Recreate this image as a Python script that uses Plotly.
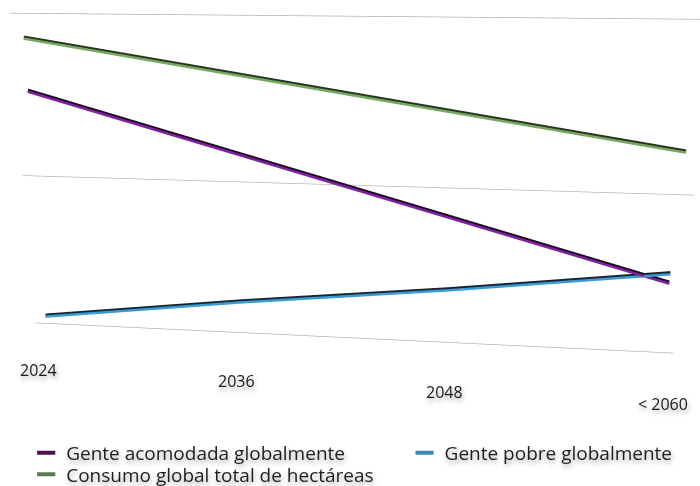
import math
import plotly.graph_objects as go

# ---- data ----
categories = ["2024", "2036", "2048", "< 2060"]
series_names = ["Gente acomodada globalmente", "Gente pobre globalmente",
                "Consumo global total de hectáreas"]
acomodada = [77, 59, 41, 23]
pobre = [3, 11, 18, 26]
consumo = [93, 83, 73, 63]
grid_values = [0, 50, 100]

# ---- 3D scene geometry (perspective view) ----
W, H = 700, 486
WALL_X = (-0.06, 3.06)          # extent of the back-wall gridlines (category units)
WALL_Y, SERIES_Y, LABEL_Y = 1.0, 0.97, 0.0
LABEL_Z = -14.43
EYE = dict(x=0.0993, y=-1.3825, z=0.2636)
ROLL = -0.0223
SX, MX, MZ, SY, SZ = 0.5179, 1.5323, 32.1975, 0.0471, 1 / 130.0

hx = max(MX - WALL_X[0], WALL_X[1] - MX) + 0.02
hz = max(MZ - LABEL_Z, max(grid_values) - MZ) + 2
XR = [MX - hx, MX + hx]
ZR = [MZ - hz, MZ + hz]
YR = [0, 1]
asp = dict(x=SX * 2 * hx, y=SY, z=SZ * 2 * hz)
UP = dict(x=math.sin(ROLL), y=0, z=math.cos(ROLL))

# ---- styles ----
main_colors = ["#7d22a0", "#3b9ad0", "#77a862"]
edge_colors = ["#1c0822", "#16242e", "#27331f"]
legend_colors = ["#4b1650", "#3d8cb8", "#5d7a4e"]
FONT = "Open Sans"
shadow = "1px 3px 5px rgba(0,0,0,0.35)"

xs = list(range(len(categories)))
fig = go.Figure()

# gridlines on the back wall
for gv in grid_values:
    fig.add_trace(go.Scatter3d(
        x=list(WALL_X), y=[WALL_Y, WALL_Y], z=[gv, gv], mode="lines",
        line=dict(color="#a8a8a8", width=1.3), showlegend=False, hoverinfo="skip"))

# tube-like series lines: dark edge + coloured body
for name, vals, mc, ec in zip(series_names, [acomodada, pobre, consumo], main_colors, edge_colors):
    fig.add_trace(go.Scatter3d(
        x=xs, y=[SERIES_Y] * len(xs), z=vals, mode="lines",
        line=dict(color=ec, width=6), showlegend=False, hoverinfo="skip"))
    fig.add_trace(go.Scatter3d(
        x=xs, y=[SERIES_Y - 0.02] * len(xs), z=[v - 0.5 for v in vals], mode="lines",
        line=dict(color=mc, width=5), showlegend=False, hoverinfo="skip"))

# legend entries
for name, lc, lid in zip(series_names, legend_colors, ["legend", "legend2", "legend3"]):
    fig.add_trace(go.Scatter(
        x=[None], y=[None], mode="markers", name=name, legend=lid,
        marker=dict(symbol="line-ew", size=13, line=dict(color=lc, width=4))))

# category labels on the floor in front
annotations = [dict(x=i, y=LABEL_Y, z=LABEL_Z, text=c, showarrow=False,
                    font=dict(family=FONT, size=16, color="#1a1a1a", shadow=shadow))
               for i, c in enumerate(categories)]

hidden = dict(visible=False, showgrid=False, zeroline=False, showbackground=False, showspikes=False)
lfont = dict(family=FONT, size=19, color="#1e1e1e", shadow=shadow)
fig.update_layout(
    width=W, height=H, margin=dict(l=0, r=0, t=0, b=0, autoexpand=False),
    paper_bgcolor="white", plot_bgcolor="white",
    xaxis=dict(visible=False), yaxis=dict(visible=False),
    scene=dict(
        domain=dict(x=[0, 1], y=[0, 1]), dragmode="orbit",
        xaxis=dict(range=XR, **hidden), yaxis=dict(range=YR, **hidden),
        zaxis=dict(range=ZR, **hidden),
        aspectmode="manual", aspectratio=asp,
        camera=dict(eye=EYE, center=dict(x=0, y=0, z=0), up=UP),
        annotations=annotations),
    legend=dict(orientation="h", x=0.0374, y=0.068, yanchor="middle", font=lfont,
                bgcolor="rgba(0,0,0,0)"),
    legend2=dict(orientation="h", x=0.578, y=0.068, yanchor="middle", font=lfont,
                 bgcolor="rgba(0,0,0,0)"),
    legend3=dict(orientation="h", x=0.0374, y=0.024, yanchor="middle", font=lfont,
                 bgcolor="rgba(0,0,0,0)"),
)

fig.write_html("out.html", config={"displayModeBar": False},
               post_script="document.body.style.margin='0';")
